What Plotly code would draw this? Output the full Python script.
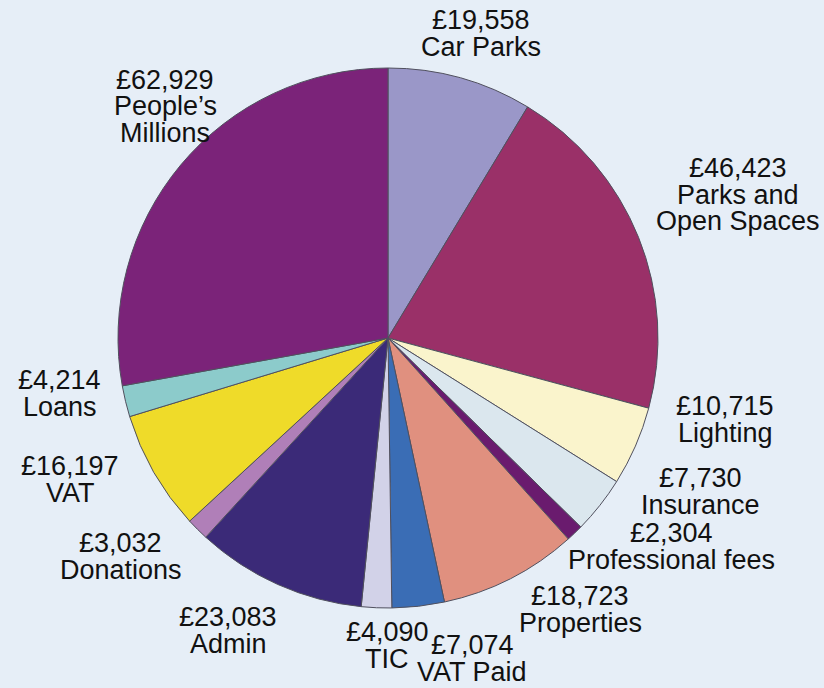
import plotly.graph_objects as go

categories = ["Car Parks", "Parks and Open Spaces", "Lighting", "Insurance",
              "Professional fees", "Properties", "VAT Paid", "TIC", "Admin",
              "Donations", "VAT", "Loans", "People’s Millions"]
values = [19558, 46423, 10715, 7730, 2304, 18723, 7074, 4090, 23083,
          3032, 16197, 4214, 62929]
# how each category name is broken into lines in its label
label_lines = [["Car Parks"], ["Parks and", "Open Spaces"], ["Lighting"],
               ["Insurance"], ["Professional fees"], ["Properties"],
               ["VAT Paid"], ["TIC"], ["Admin"], ["Donations"], ["VAT"],
               ["Loans"], ["People’s", "Millions"]]
colors = ["#9a97c8", "#9a3068", "#faf4cc", "#dbe7ee", "#6a1b6e", "#e0907f",
          "#3a6db5", "#d2d2e8", "#3b2a78", "#b07fb8", "#efdb29", "#8ccbcb",
          "#7b2379"]

# label anchor positions (pixel centre of first line)
label_pos = [(481, 20), (738, 168), (725, 406), (700, 478), (671, 533),
             (580, 596), (472, 645), (387, 632), (228, 617), (121, 543),
             (70, 466), (60, 380), (165, 80)]

W, H = 824, 688
fig = go.Figure(go.Pie(
    labels=categories, values=values, sort=False, direction="clockwise",
    rotation=0, textinfo="none", hoverinfo="label+value",
    marker=dict(colors=colors, line=dict(color="#50505e", width=1)),
    domain=dict(x=[118 / W, 658 / W], y=[80 / H, 620 / H]),
    showlegend=False,
))

LINE = 26.5
for v, lines, (px, py) in zip(values, label_lines, label_pos):
    texts = ["£{:,}".format(v)] + lines
    for i, t in enumerate(texts):
        fig.add_annotation(x=px / W, y=1 - py / H, xref="paper", yref="paper",
                           text=t, showarrow=False, xanchor="center",
                           yanchor="middle", yshift=-LINE * i,
                           font=dict(family="Liberation Sans, Arial", size=27,
                                     color="#111111"))

fig.update_layout(width=W, height=H, margin=dict(l=0, r=0, t=0, b=0),
                  paper_bgcolor="#e6eef7", plot_bgcolor="#e6eef7")
fig.write_html("out.html", config={"displayModeBar": False},
               post_script="document.body.style.margin='0px';"
                           "document.body.style.overflow='hidden';")
